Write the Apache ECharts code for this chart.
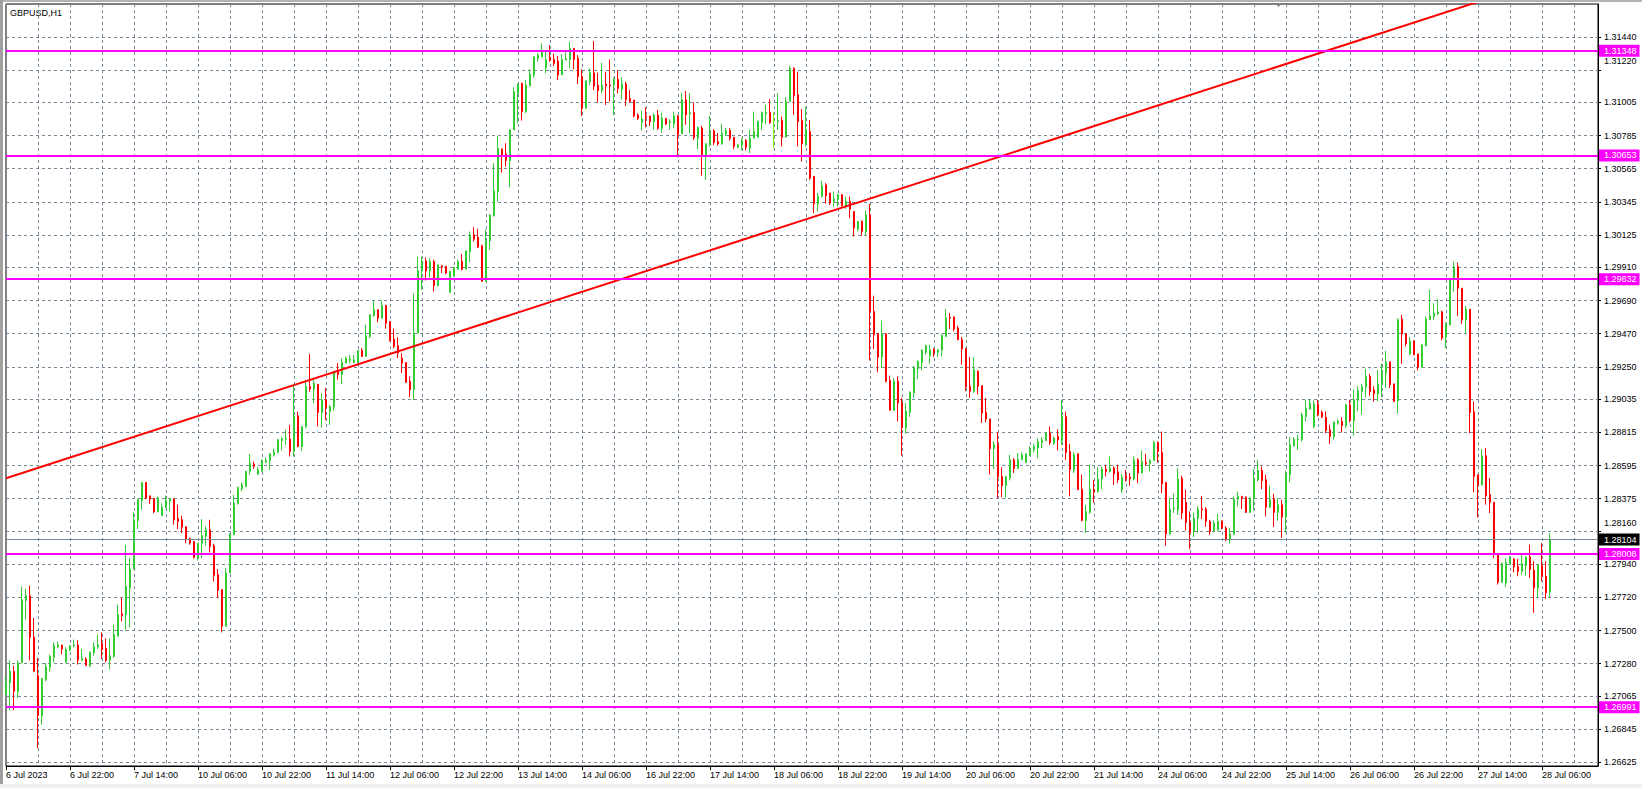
<!DOCTYPE html>
<html><head><meta charset="utf-8">
<script src="https://cdn.jsdelivr.net/npm/echarts@6/dist/echarts.min.js"></script>
<style>html,body{margin:0;padding:0;background:#fff}#c{width:1642px;height:788px}</style>
</head><body><div id="c"></div>
<script>
const symbolTitle = 'GBPUSD,H1';
const tickLabels = ['6 Jul 2023','6 Jul 22:00','7 Jul 14:00','10 Jul 06:00','10 Jul 22:00','11 Jul 14:00','12 Jul 06:00','12 Jul 22:00','13 Jul 14:00','14 Jul 06:00','16 Jul 22:00','17 Jul 14:00','18 Jul 06:00','18 Jul 22:00','19 Jul 14:00','20 Jul 06:00','20 Jul 22:00','21 Jul 14:00','24 Jul 06:00','24 Jul 22:00','25 Jul 14:00','26 Jul 06:00','26 Jul 22:00','27 Jul 14:00','28 Jul 06:00'];
const barsPerTick = 16;
const slotCount = 399;
const yTickValues = [1.26625,1.26845,1.27065,1.27280,1.27500,1.27720,1.27940,1.28160,1.28375,1.28595,1.28815,1.29035,1.29250,1.29470,1.29690,1.29910,1.30125,1.30345,1.30565,1.30785,1.31005,1.31220,1.31440];
const yMin = 1.26601, yMax = 1.31658;
const levels = [1.31348,1.30653,1.29832,1.28008,1.26991];
const trendStart = [0, 1.28511];
const trendEnd = [398, 1.31930];

const opens = [
1.27075,1.27152,1.27229,1.27097,1.27285,1.27700,1.27731,1.27455,1.27201,1.26936,
1.27174,1.27256,1.27322,1.27391,1.27404,1.27289,1.27369,1.27400,1.27404,1.27302,
1.27311,1.27267,1.27351,1.27391,1.27413,1.27382,1.27302,1.27329,1.27462,1.27612,
1.27605,1.27782,1.27908,1.28231,1.28363,1.28483,1.28394,1.28377,1.28288,1.28262,
1.28319,1.28359,1.28372,1.28244,1.28235,1.28189,1.28111,1.28091,1.27985,1.28080,
1.28125,1.28169,1.28063,1.27871,1.27771,1.27528,1.27882,1.28136,1.28343,1.28440,
1.28456,1.28556,1.28606,1.28538,1.28556,1.28617,1.28628,1.28666,1.28682,1.28761,
1.28770,1.28772,1.28688,1.28925,1.28721,1.28854,1.29119,1.29101,1.29135,1.28947,
1.29031,1.28953,1.28982,1.29224,1.29198,1.29275,1.29293,1.29279,1.29275,1.29359,
1.29319,1.29452,1.29591,1.29629,1.29573,1.29657,1.29551,1.29434,1.29390,1.29308,
1.29279,1.29154,1.29098,1.29474,1.29887,1.29953,1.29889,1.29949,1.29790,1.29920,
1.29916,1.29744,1.29854,1.29898,1.29949,1.29898,1.30015,1.30126,1.30111,1.30053,
1.29817,1.30086,1.30252,1.30413,1.30696,1.30663,1.30619,1.30822,1.31065,1.31131,
1.30944,1.31114,1.31187,1.31297,1.31308,1.31237,1.31304,1.31290,1.31279,1.31187,
1.31286,1.31290,1.31363,1.31297,1.31176,1.30966,1.31143,1.31202,1.31120,1.31083,
1.31127,1.31120,1.31120,1.31158,1.31092,1.31127,1.31032,1.31021,1.30921,1.30871,
1.30915,1.30915,1.30877,1.30921,1.30833,1.30899,1.30871,1.30862,1.30915,1.30796,
1.31022,1.30929,1.30938,1.30767,1.30834,1.30650,1.30723,1.30816,1.30745,1.30730,
1.30796,1.30818,1.30774,1.30708,1.30723,1.30752,1.30701,1.30767,1.30774,1.30871,
1.30929,1.30938,1.30880,1.30878,1.30885,1.30774,1.31011,1.31231,1.31055,1.30885,
1.30734,1.30812,1.30513,1.30332,1.30381,1.30458,1.30403,1.30347,1.30358,1.30392,
1.30314,1.30347,1.30281,1.30164,1.30215,1.30149,1.30259,1.29618,1.29470,1.29315,
1.29470,1.29161,1.28962,1.29154,1.29010,1.28845,1.28948,1.29077,1.29236,1.29280,
1.29346,1.29324,1.29364,1.29346,1.29360,1.29452,1.29578,1.29581,1.29508,1.29430,
1.29368,1.29121,1.29088,1.29220,1.29125,1.28948,1.28904,1.28707,1.28734,1.28522,
1.28461,1.28514,1.28633,1.28576,1.28633,1.28615,1.28660,1.28700,1.28711,1.28748,
1.28760,1.28810,1.28743,1.28788,1.28760,1.28920,1.28688,1.28567,1.28673,1.28438,
1.28231,1.28284,1.28438,1.28423,1.28505,1.28571,1.28556,1.28578,1.28553,1.28434,
1.28527,1.28518,1.28505,1.28633,1.28545,1.28615,1.28607,1.28629,1.28748,1.28682,
1.28483,1.28142,1.28306,1.28302,1.28511,1.28350,1.28217,1.28158,1.28246,1.28308,
1.28306,1.28224,1.28164,1.28169,1.28224,1.28180,1.28103,1.28140,1.28372,1.28390,
1.28385,1.28284,1.28379,1.28500,1.28562,1.28500,1.28319,1.28372,1.28284,1.28335,
1.28253,1.28534,1.28726,1.28766,1.28766,1.28920,1.28971,1.28854,1.29004,1.28947,
1.28916,1.28832,1.28788,1.28877,1.28888,1.28859,1.28998,1.28894,1.29027,1.29086,
1.29115,1.29186,1.29097,1.29071,1.29133,1.29208,1.29283,1.29137,1.29025,1.29566,
1.29469,1.29336,1.29420,1.29336,1.29248,1.29389,1.29562,1.29584,1.29601,1.29615,
1.29447,1.29528,1.29831,1.29915,1.29772,1.29562,1.29632,1.28952,1.28534,1.28468,
1.28660,1.28401,1.28351,1.28004,1.27820,1.27816,1.27944,1.27975,1.27926,1.27893,
1.27930,1.27988,1.27900,1.27783,1.27931,1.27860,1.27754];

const highs = [
1.27196,1.27302,1.27267,1.27302,1.27793,1.27778,1.27797,1.27583,1.27318,1.27183,
1.27285,1.27340,1.27422,1.27426,1.27404,1.27389,1.27400,1.27440,1.27435,1.27378,
1.27322,1.27362,1.27422,1.27473,1.27488,1.27448,1.27448,1.27539,1.27672,1.27716,
1.28069,1.27981,1.28284,1.28372,1.28483,1.28483,1.28394,1.28377,1.28390,1.28346,
1.28396,1.28381,1.28379,1.28335,1.28262,1.28191,1.28116,1.28091,1.28080,1.28240,
1.28191,1.28235,1.28076,1.27908,1.27775,1.27915,1.28142,1.28401,1.28456,1.28483,
1.28560,1.28673,1.28622,1.28586,1.28637,1.28648,1.28677,1.28708,1.28770,1.28788,
1.28832,1.28865,1.29130,1.28953,1.28854,1.29152,1.29336,1.29174,1.29135,1.29075,
1.29108,1.28997,1.29218,1.29275,1.29308,1.29319,1.29330,1.29330,1.29359,1.29374,
1.29529,1.29596,1.29688,1.29629,1.29688,1.29662,1.29551,1.29503,1.29447,1.29341,
1.29279,1.29187,1.29736,1.29982,1.29982,1.29976,1.29971,1.29960,1.29927,1.29927,
1.29920,1.29883,1.29911,1.29960,1.30000,1.30020,1.30148,1.30177,1.30166,1.30060,
1.30163,1.30259,1.30601,1.30782,1.30700,1.30734,1.30826,1.31105,1.31131,1.31136,
1.31154,1.31224,1.31308,1.31330,1.31397,1.31352,1.31386,1.31330,1.31313,1.31326,
1.31348,1.31408,1.31363,1.31319,1.31224,1.31149,1.31231,1.31412,1.31202,1.31268,
1.31209,1.31290,1.31171,1.31220,1.31171,1.31142,1.31087,1.31021,1.30933,1.30950,
1.30972,1.30915,1.30933,1.30955,1.30937,1.30899,1.30893,1.30944,1.30922,1.31070,
1.31081,1.31066,1.31004,1.30845,1.30849,1.30734,1.30915,1.30827,1.30801,1.30862,
1.30834,1.30834,1.30774,1.30730,1.30767,1.30761,1.30823,1.30944,1.30885,1.30944,
1.30988,1.31026,1.30938,1.31066,1.30911,1.31039,1.31247,1.31238,1.31209,1.30960,
1.30977,1.30889,1.30518,1.30403,1.30484,1.30469,1.30403,1.30414,1.30398,1.30398,
1.30380,1.30380,1.30281,1.30215,1.30222,1.30288,1.30332,1.29722,1.29470,1.29558,
1.29470,1.29192,1.29176,1.29187,1.29044,1.29010,1.29088,1.29258,1.29293,1.29368,
1.29397,1.29397,1.29375,1.29368,1.29470,1.29634,1.29607,1.29585,1.29523,1.29448,
1.29375,1.29315,1.29315,1.29227,1.29125,1.29044,1.28904,1.28756,1.28816,1.28584,
1.28527,1.28666,1.28644,1.28677,1.28682,1.28673,1.28726,1.28739,1.28777,1.28783,
1.28814,1.28854,1.28788,1.28836,1.29031,1.28953,1.28739,1.28682,1.28673,1.28534,
1.28335,1.28600,1.28500,1.28584,1.28589,1.28600,1.28655,1.28589,1.28600,1.28540,
1.28567,1.28545,1.28655,1.28644,1.28695,1.28673,1.28637,1.28760,1.28755,1.28821,
1.28483,1.28379,1.28408,1.28578,1.28527,1.28434,1.28291,1.28284,1.28324,1.28394,
1.28319,1.28235,1.28231,1.28275,1.28231,1.28191,1.28180,1.28390,1.28423,1.28394,
1.28390,1.28385,1.28571,1.28633,1.28589,1.28534,1.28461,1.28408,1.28379,1.28368,
1.28562,1.28783,1.28783,1.28799,1.28947,1.29031,1.29035,1.29026,1.29031,1.28960,
1.28954,1.28866,1.28888,1.28903,1.28916,1.29005,1.29031,1.29098,1.29120,1.29137,
1.29235,1.29204,1.29120,1.29230,1.29270,1.29356,1.29283,1.29137,1.29573,1.29595,
1.29469,1.29447,1.29425,1.29336,1.29403,1.29584,1.29761,1.29672,1.29699,1.29623,
1.29544,1.29838,1.29948,1.29942,1.29772,1.29654,1.29632,1.29020,1.28534,1.28704,
1.28711,1.28512,1.28351,1.28015,1.27953,1.27981,1.27993,1.27981,1.27975,1.28004,
1.27993,1.28070,1.27960,1.27937,1.28081,1.27960,1.28147];

const lows = [
1.27068,1.26971,1.26971,1.27053,1.27285,1.27572,1.27302,1.27229,1.26721,1.26874,
1.27163,1.27229,1.27289,1.27384,1.27342,1.27289,1.27362,1.27389,1.27274,1.27302,
1.27263,1.27256,1.27333,1.27378,1.27311,1.27289,1.27241,1.27318,1.27462,1.27561,
1.27501,1.27521,1.27908,1.28173,1.28301,1.28372,1.28341,1.28279,1.28288,1.28262,
1.28312,1.28290,1.28202,1.28173,1.28147,1.28080,1.28069,1.27977,1.27965,1.27981,
1.28063,1.28019,1.27826,1.27716,1.27488,1.27528,1.27882,1.28136,1.28335,1.28423,
1.28452,1.28534,1.28573,1.28534,1.28556,1.28611,1.28567,1.28655,1.28677,1.28695,
1.28730,1.28655,1.28655,1.28717,1.28693,1.28843,1.29086,1.29009,1.28854,1.28847,
1.28898,1.28864,1.28960,1.29165,1.29136,1.29275,1.29275,1.29275,1.29275,1.29315,
1.29315,1.29441,1.29580,1.29545,1.29567,1.29503,1.29419,1.29374,1.29308,1.29209,
1.29143,1.29048,1.29028,1.29474,1.29761,1.29823,1.29845,1.29750,1.29783,1.29872,
1.29865,1.29744,1.29850,1.29898,1.29889,1.29898,1.29945,1.30082,1.30038,1.29817,
1.29817,1.30027,1.30248,1.30347,1.30539,1.30579,1.30442,1.30822,1.30866,1.30884,
1.30933,1.31114,1.31171,1.31275,1.31304,1.31198,1.31275,1.31246,1.31154,1.31187,
1.31286,1.31231,1.31224,1.31127,1.30915,1.30966,1.31120,1.31087,1.31003,1.31065,
1.30988,1.31010,1.30921,1.31065,1.31025,1.30981,1.31003,1.30906,1.30888,1.30818,
1.30840,1.30849,1.30822,1.30822,1.30804,1.30855,1.30823,1.30834,1.30641,1.30796,
1.30856,1.30800,1.30756,1.30694,1.30518,1.30491,1.30712,1.30723,1.30717,1.30723,
1.30783,1.30752,1.30694,1.30701,1.30686,1.30686,1.30668,1.30767,1.30774,1.30823,
1.30862,1.30862,1.30701,1.30823,1.30712,1.30774,1.31011,1.30922,1.30712,1.30613,
1.30712,1.30491,1.30270,1.30281,1.30376,1.30332,1.30325,1.30314,1.30314,1.30314,
1.30297,1.30237,1.30115,1.30149,1.30120,1.30120,1.29293,1.29368,1.29214,1.29242,
1.29147,1.28962,1.28962,1.28889,1.28661,1.28807,1.28918,1.29044,1.29168,1.29227,
1.29331,1.29271,1.29315,1.29315,1.29320,1.29452,1.29501,1.29486,1.29426,1.29265,
1.29088,1.29044,1.29077,1.29066,1.28878,1.28882,1.28535,1.28573,1.28381,1.28385,
1.28379,1.28496,1.28545,1.28576,1.28633,1.28615,1.28660,1.28682,1.28644,1.28711,
1.28760,1.28732,1.28732,1.28695,1.28732,1.28633,1.28390,1.28545,1.28434,1.28224,
1.28147,1.28275,1.28350,1.28416,1.28438,1.28522,1.28549,1.28467,1.28478,1.28412,
1.28489,1.28461,1.28496,1.28478,1.28545,1.28593,1.28556,1.28629,1.28615,1.28412,
1.28063,1.28136,1.28280,1.28268,1.28240,1.28164,1.28040,1.28120,1.28147,1.28240,
1.28187,1.28136,1.28151,1.28158,1.28173,1.28092,1.28076,1.28136,1.28324,1.28306,
1.28280,1.28280,1.28297,1.28489,1.28438,1.28257,1.28313,1.28187,1.28231,1.28114,
1.28151,1.28483,1.28721,1.28700,1.28755,1.28887,1.28965,1.28843,1.28920,1.28910,
1.28810,1.28739,1.28766,1.28866,1.28815,1.28843,1.28881,1.28793,1.28954,1.28932,
1.29049,1.29058,1.29020,1.29020,1.29049,1.29109,1.29109,1.29020,1.28938,1.29270,
1.29385,1.29330,1.29330,1.29226,1.29248,1.29389,1.29562,1.29562,1.29595,1.29425,
1.29374,1.29528,1.29749,1.29588,1.29535,1.29467,1.28810,1.28417,1.28250,1.28461,
1.28335,1.28280,1.27981,1.27805,1.27816,1.27789,1.27937,1.27886,1.27860,1.27871,
1.27864,1.27849,1.27617,1.27716,1.27827,1.27710,1.27716];

const closes = [
1.27152,1.27229,1.27097,1.27285,1.27705,1.27731,1.27455,1.27229,1.26936,1.27183,
1.27260,1.27329,1.27400,1.27404,1.27378,1.27373,1.27400,1.27406,1.27302,1.27316,
1.27269,1.27355,1.27393,1.27404,1.27373,1.27302,1.27333,1.27473,1.27605,1.27599,
1.27793,1.27908,1.28235,1.28372,1.28483,1.28379,1.28372,1.28288,1.28381,1.28319,
1.28363,1.28377,1.28235,1.28224,1.28186,1.28103,1.28080,1.27985,1.28080,1.28129,
1.28169,1.28058,1.27866,1.27767,1.27528,1.27882,1.28142,1.28346,1.28449,1.28467,
1.28556,1.28611,1.28589,1.28567,1.28626,1.28628,1.28673,1.28684,1.28766,1.28772,
1.28774,1.28688,1.28925,1.28721,1.28854,1.29119,1.29104,1.29141,1.28947,1.29031,
1.28982,1.28986,1.29218,1.29198,1.29279,1.29308,1.29302,1.29297,1.29359,1.29319,
1.29456,1.29596,1.29629,1.29573,1.29657,1.29540,1.29423,1.29385,1.29341,1.29275,
1.29147,1.29098,1.29474,1.29887,1.29953,1.29887,1.29949,1.29790,1.29927,1.29911,
1.29872,1.29883,1.29911,1.29949,1.29898,1.30020,1.30126,1.30097,1.30044,1.29817,
1.30086,1.30259,1.30418,1.30700,1.30656,1.30619,1.30822,1.31076,1.31120,1.30944,
1.31120,1.31193,1.31308,1.31319,1.31348,1.31290,1.31286,1.31264,1.31187,1.31290,
1.31297,1.31363,1.31290,1.31176,1.30966,1.31149,1.31202,1.31114,1.31083,1.31120,
1.31116,1.31114,1.31158,1.31098,1.31127,1.31025,1.31010,1.30915,1.30899,1.30895,
1.30906,1.30877,1.30921,1.30833,1.30899,1.30862,1.30880,1.30915,1.30790,1.31022,
1.30922,1.30938,1.30772,1.30838,1.30650,1.30730,1.30801,1.30739,1.30730,1.30801,
1.30818,1.30767,1.30712,1.30723,1.30752,1.30708,1.30767,1.30812,1.30878,1.30938,
1.30938,1.30871,1.30880,1.30885,1.30774,1.31011,1.31231,1.31048,1.30878,1.30730,
1.30823,1.30502,1.30332,1.30381,1.30451,1.30385,1.30337,1.30363,1.30392,1.30319,
1.30347,1.30297,1.30171,1.30215,1.30149,1.30259,1.29618,1.29463,1.29315,1.29470,
1.29154,1.28962,1.29154,1.29010,1.28845,1.28955,1.29081,1.29242,1.29287,1.29360,
1.29391,1.29364,1.29342,1.29364,1.29457,1.29574,1.29572,1.29501,1.29430,1.29368,
1.29117,1.29088,1.29231,1.29121,1.28944,1.28904,1.28707,1.28734,1.28520,1.28461,
1.28518,1.28633,1.28576,1.28637,1.28666,1.28673,1.28704,1.28721,1.28755,1.28766,
1.28810,1.28748,1.28777,1.28766,1.28925,1.28682,1.28567,1.28666,1.28434,1.28231,
1.28290,1.28438,1.28423,1.28505,1.28571,1.28556,1.28578,1.28540,1.28500,1.28518,
1.28511,1.28507,1.28633,1.28545,1.28622,1.28607,1.28629,1.28748,1.28688,1.28474,
1.28142,1.28306,1.28313,1.28505,1.28280,1.28217,1.28151,1.28246,1.28306,1.28302,
1.28224,1.28158,1.28213,1.28224,1.28180,1.28103,1.28142,1.28372,1.28390,1.28379,
1.28284,1.28379,1.28505,1.28562,1.28496,1.28319,1.28372,1.28284,1.28335,1.28253,
1.28540,1.28732,1.28770,1.28770,1.28931,1.28976,1.29009,1.29004,1.28931,1.28916,
1.28828,1.28788,1.28883,1.28888,1.28859,1.28998,1.28894,1.29031,1.29091,1.29120,
1.29186,1.29086,1.29071,1.29137,1.29217,1.29283,1.29131,1.29020,1.29562,1.29467,
1.29403,1.29420,1.29330,1.29248,1.29394,1.29568,1.29588,1.29606,1.29615,1.29440,
1.29535,1.29831,1.29915,1.29772,1.29562,1.29632,1.28947,1.28523,1.28468,1.28660,
1.28395,1.28351,1.28004,1.27820,1.27944,1.27953,1.27976,1.27922,1.27893,1.27944,
1.27988,1.27904,1.27783,1.27937,1.27860,1.27750,1.28104];

const FONT = '"Liberation Sans", Arial, sans-serif';
const BULL = '#32CD32', BEAR = '#FF0000', DOJI = '#7CFC00';
const MAGENTA = '#FF00FF', GRIDC = '#778899';

const candleData = opens.map((o, i) => {
  const c = closes[i];
  const v = [o, c, Math.min(lows[i], o, c), Math.max(highs[i], o, c)];
  if (o === c) return { value: v, itemStyle: { color: DOJI, borderColor: DOJI, color0: DOJI, borderColor0: DOJI } };
  return v;
});
const lastClose = closes[closes.length - 1];
const shifted = [1.31220, 1.28160];

const chart = echarts.init(document.getElementById('c'), null, { renderer: 'svg' });
const boxLabel = (bg, val) => ({
  show: true, position: 'end', distance: 1,
  formatter: () => val.toFixed(5),
  color: '#fff', backgroundColor: bg, padding: [1, 3, 1, 5],
  fontSize: 9, lineHeight: 10, fontFamily: FONT
});

chart.setOption({
  animation: false,
  backgroundColor: '#fff',
  grid: { left: 6, top: 4, width: 1592, height: 762, show: true, borderColor: '#000', borderWidth: 1, backgroundColor: '#fff' },
  xAxis: {
    type: 'category',
    data: Array.from({ length: slotCount }, (_, i) => String(i)),
    boundaryGap: false,
    axisLine: { lineStyle: { color: '#000', width: 1 } },
    axisTick: { interval: barsPerTick - 1, length: 4, lineStyle: { color: '#000' } },
    axisLabel: {
      interval: barsPerTick - 1, align: 'left', margin: 4, fontSize: 9, fontFamily: FONT, color: '#000',
      formatter: (v, i) => tickLabels[i / barsPerTick] || ''
    },
    splitLine: { show: true, interval: barsPerTick / 2 - 1, lineStyle: { color: GRIDC, width: 1, type: [3, 3] } }
  },
  yAxis: {
    type: 'value', position: 'right', min: yMin, max: yMax, scale: true,
    axisLine: { show: true, lineStyle: { color: '#000', width: 1 } },
    axisTick: { show: true, length: 3, customValues: yTickValues, lineStyle: { color: '#000' } },
    axisLabel: {
      customValues: yTickValues, margin: 6, fontSize: 9, fontFamily: FONT, color: '#000',
      formatter: v => shifted.some(s => Math.abs(s - v) < 1e-7) ? '{up|' + v.toFixed(5) + '}' : v.toFixed(5),
      rich: { up: { fontSize: 9, fontFamily: FONT, color: '#000', padding: [0, 0, 17, 0] } }
    },
    splitLine: { show: true, lineStyle: { color: GRIDC, width: 1, type: [3, 3] } }
  },
  series: [
    {
      type: 'candlestick', data: candleData, barWidth: 2, z: 2,
      itemStyle: { color: BULL, color0: BEAR, borderColor: BULL, borderColor0: BEAR, borderWidth: 1 }
    },
    {
      type: 'line', data: [trendStart, trendEnd], symbol: 'none', clip: true, z: 4, silent: true,
      lineStyle: { color: '#FF0000', width: 2 },
      markLine: {
        symbol: 'none', silent: true, animation: false, precision: 5,
        data: [
          ...levels.map(v => ({ yAxis: v, lineStyle: { color: MAGENTA, width: 2, type: 'solid' }, label: boxLabel(MAGENTA, v) })),
          { yAxis: lastClose, lineStyle: { color: GRIDC, width: 1, type: 'solid' }, label: boxLabel('#000', lastClose) }
        ]
      }
    }
  ],
  graphic: [
    { type: 'text', left: 10, top: 8, style: { text: symbolTitle, fontSize: 9, fontFamily: FONT, fill: '#000' } },
    { type: 'rect', shape: { x: 0, y: 0, width: 1642, height: 2 }, style: { fill: '#b4b4b4' } },
    { type: 'rect', shape: { x: 0, y: 0, width: 3, height: 788 }, style: { fill: '#a0a0a0' } },
    { type: 'rect', shape: { x: 0, y: 784, width: 1642, height: 4 }, style: { fill: '#f0f0f0' } },
    { type: 'polygon', shape: { points: [[1275, 3], [1282, 3], [1278.5, 7]] }, style: { fill: '#808080' } }
  ]
});
</script>
</body></html>
